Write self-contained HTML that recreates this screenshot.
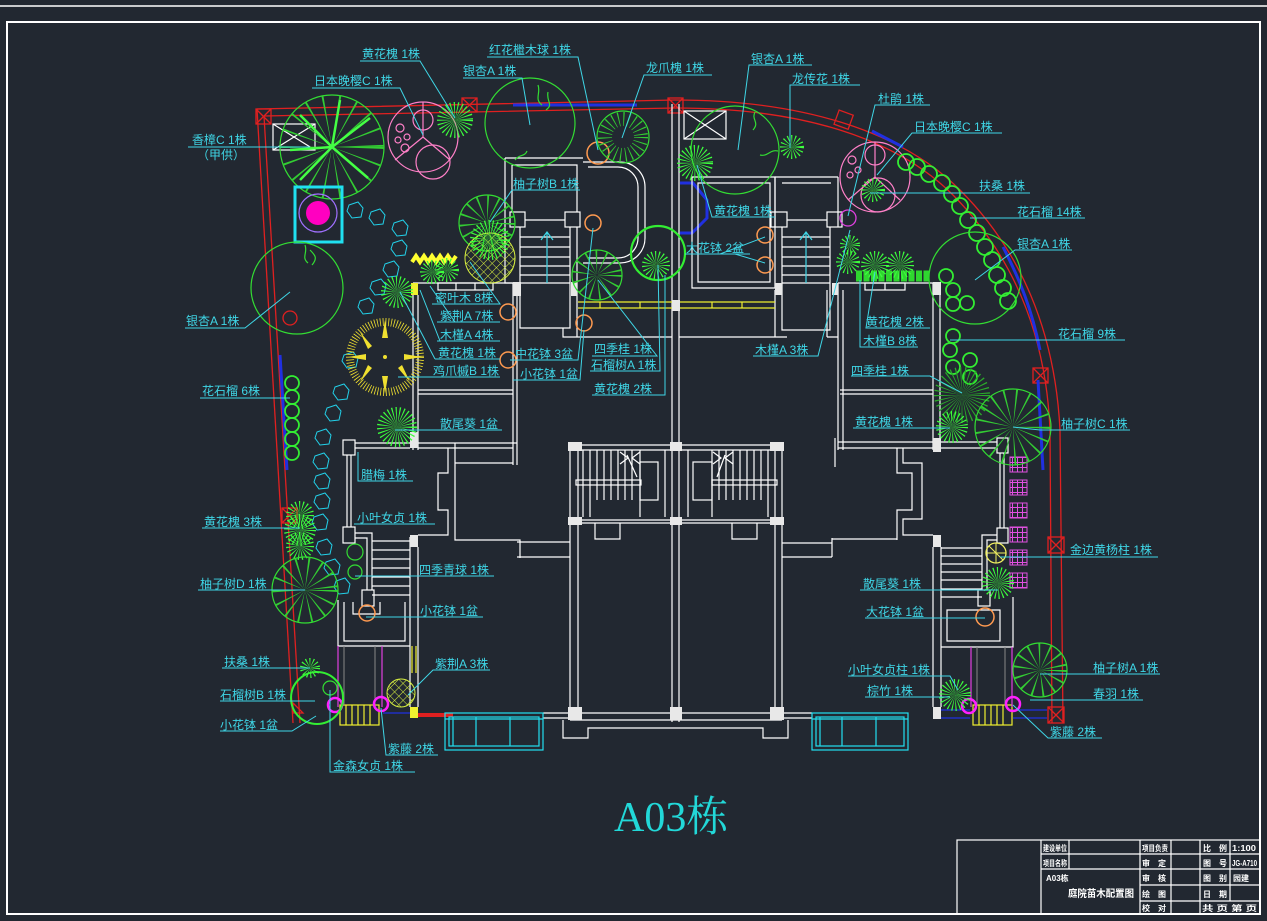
<!DOCTYPE html>
<html><head><meta charset="utf-8">
<style>
html,body{margin:0;padding:0;background:#222831;}
svg{display:block;}
.t{font-family:"Liberation Sans","Noto Sans CJK SC",sans-serif;font-size:12px;fill:#3fd6e6;}
.w{stroke:#fff;stroke-width:1.2;fill:none;}
.c{stroke:#3fd6e6;stroke-width:1;fill:none;}
.g{stroke:#33dd33;stroke-width:1.2;fill:none;}
.gs{stroke:#3dff3d;fill:none;stroke-dasharray:0.7 1.6;}
.o{stroke:#ff9a50;stroke-width:1.5;fill:none;}
.tb{font-family:"Liberation Sans","Noto Sans CJK SC",sans-serif;font-size:8px;font-weight:bold;fill:#fff;}
</style></head><body>
<svg width="1267" height="921" viewBox="0 0 1267 921" xmlns="http://www.w3.org/2000/svg">
<defs>
<pattern id="lat" width="6" height="6" patternUnits="userSpaceOnUse" patternTransform="rotate(45)">
<path d="M0,0H6M0,0V6" stroke="#d8f040" stroke-width="1"/>
</pattern>
<pattern id="mag" width="5" height="5" patternUnits="userSpaceOnUse">
<path d="M0,2.5H5M2.5,0V5" stroke="#e050e0" stroke-width="1"/>
</pattern>
<path id="st" d="M-6,-5L3,-8L8,-2L6,7L-3,8L-8,1Z" fill="none" stroke="#22d0e8" stroke-width="1"/>
</defs>
<rect width="1267" height="921" fill="#222831"/>
<!-- frame -->
<line x1="0" y1="6" x2="1267" y2="6" stroke="#fff" stroke-width="1.5"/>
<rect x="7" y="22" width="1253" height="892" fill="none" stroke="#fff" stroke-width="2"/>

<!-- title block -->
<g stroke="#fff" stroke-width="1.2" fill="none">
<rect x="957" y="840" width="303" height="74"/>
<path d="M1041,840V914M1069,840V869M1140,840V914M1171,840V914M1200,840V914M1230,840V901M1041,854H1140M1041,869H1140M1140,854H1260M1140,869H1260M1140,885H1260M1140,901H1260"/>
</g>
<text class="tb" x="1043" y="851" textLength="24" lengthAdjust="spacingAndGlyphs">建设单位</text>
<text class="tb" x="1043" y="866" textLength="24" lengthAdjust="spacingAndGlyphs">项目名称</text>
<text class="tb" x="1046" y="881">A03栋</text>
<text class="tb" x="1068" y="897" textLength="66" lengthAdjust="spacingAndGlyphs" style="font-size:10px">庭院苗木配置图</text>
<text class="tb" x="1142" y="851" textLength="26" lengthAdjust="spacingAndGlyphs">项目负责</text>
<text class="tb" x="1142" y="866">审　定</text>
<text class="tb" x="1142" y="881">审　核</text>
<text class="tb" x="1142" y="897">绘　图</text>
<text class="tb" x="1142" y="911">校　对</text>
<text class="tb" x="1203" y="851">比　例</text>
<text class="tb" x="1232" y="851" textLength="24" lengthAdjust="spacingAndGlyphs">1:100</text>
<text class="tb" x="1203" y="866">图　号</text>
<text class="tb" x="1232" y="866" textLength="25" lengthAdjust="spacingAndGlyphs">JG-A710</text>
<text class="tb" x="1203" y="881">图　别</text>
<text class="tb" x="1233" y="881">园建</text>
<text class="tb" x="1203" y="897">日　期</text>
<text class="tb" x="1202" y="911" textLength="55" lengthAdjust="spacingAndGlyphs">共 页 第 页</text>

<!-- big title -->
<text x="614" y="831" style="font-family:'Liberation Serif','Noto Serif CJK SC',serif;font-size:42px;fill:#22d8d8;">A03栋</text>

<!-- property boundary red -->
<g stroke="#e02020" stroke-width="1.3" fill="none">
<path d="M257,109L293,723"/>
<path d="M264,116L300,723"/>
<path d="M257,109L675,100C800,100 900,130 960,190C1020,250 1055,330 1060,430L1063,723"/>
<path d="M264,116L675,108C800,108 895,137 953,195C1012,255 1046,333 1050,430L1052,723"/>
</g>
<g stroke="#e02020" stroke-width="1.3" fill="none">
<rect x="256" y="109" width="15" height="15"/><path d="M256,109l15,15M271,109l-15,15"/>
<rect x="462" y="98" width="15" height="14"/><path d="M462,98l15,14M477,98l-15,14"/>
<rect x="668" y="98" width="15" height="15"/><path d="M668,98l15,15M683,98l-15,15"/>
<rect x="836" y="112" width="15" height="15" transform="rotate(20 843 120)"/>
<rect x="1033" y="368" width="15" height="15"/><path d="M1033,368l15,15M1048,368l-15,15"/>
<rect x="1048" y="537" width="16" height="16"/><path d="M1048,537l16,16M1064,537l-16,16"/>
<rect x="1048" y="707" width="16" height="16"/><path d="M1048,707l16,16M1064,707l-16,16"/>
<rect x="282" y="508" width="15" height="15"/><path d="M282,508l15,15M297,508l-15,15"/>
<circle cx="290" cy="318" r="7"/>
<path d="M293,703l10,10h-10z"/>
</g>
<!-- blue boundary bits -->
<g stroke="#2030e0" stroke-width="3" fill="none">
<path d="M513,105H637"/>
<path d="M280,355L287,470"/>
<path d="M872,131L903,147"/>
<path d="M1003,247C1020,280 1032,310 1040,350"/>
<path d="M1038,380L1043,470"/>
<path d="M680,183H693L707,200V218L692,233H680"/>
</g>

<!-- BUILDING -->
<g class="w">
<path d="M672,104V722M679,104V722"/>
<path d="M570,445V720M578,450V713M775,450V713M782,445V720M570,445H782M578,450H775M570,520H782M578,523H672M679,523H775M570,720H782M578,713H775"/>
<path d="M563,720V738H588V728H763V738H788V720"/>
<path d="M595,523V539H620V523M732,523V539H757V523"/>
<path d="M517,542H570M517,557H570M782,543H832M782,557H832"/>
<path d="M543,713H570M543,718H570M782,713H812M782,718H812"/>
<path d="M583,450V517M590,450V517M597,450V500M604,450V500M611,450V500M618,450V500M625,450V500M632,450V500M640,450V517M665,450V517"/>
<rect x="576" y="480" width="65" height="5"/><rect x="640" y="462" width="18" height="38"/>
<path d="M620,452l8,6l-8,6M640,452l-8,6l8,6M627,455l10,22"/>
<path d="M712,450V517M719,450V500M726,450V500M733,450V500M740,450V500M747,450V500M754,450V500M761,450V500M768,450V517M688,450V517"/>
<rect x="712" y="480" width="65" height="5"/><rect x="693" y="462" width="19" height="38"/>
<path d="M713,452l8,6l-8,6M733,452l-8,6l8,6M725,455l-8,22"/>
<rect x="343" y="440" width="12" height="15"/><rect x="343" y="527" width="12" height="16"/><rect x="362" y="590" width="12" height="16"/>
<path d="M347,455V527M351,455V527M355,443H410M355,448H410"/>
<path d="M355,533H372V590M355,538H367V590"/>
<path d="M372,541H410M372,550H410M372,559H410M372,568H410M372,577H410M372,586H410M372,595H410"/>
<path d="M410,537V707M418,547V707"/>
<path d="M338,600V646H410M344,602V641H405V602M353,602V614H380V602"/>
<path d="M418,443H517M418,448H513M513,283V465M517,296V465"/>
<path d="M448,448V473H438V510H448V535H418"/>
<path d="M455,443V540H520V558M455,463H513"/>
<rect x="997" y="438" width="11" height="15"/><rect x="997" y="528" width="11" height="15"/><rect x="978" y="590" width="12" height="16"/>
<path d="M1000,453V528M1004,453V528M838,442H997M838,448H933M941,448H997"/>
<path d="M997,535H982V590M997,540H987V590"/>
<path d="M941,548H982M941,556H982M941,564H982M941,572H982M941,580H982M941,589H982M941,597H982"/>
<path d="M933,547V707M941,547V707"/>
<path d="M1013,597V647H941M947,610H1000V641H947Z"/>
<path d="M897,448V473H912V510H897V540M903,448V463H922V519H903V535H933"/>
<path d="M832,538V557M832,539H897M835,438V467"/>
<path d="M413,283H513M413,283V450M418,295V450M418,390H513M418,394H513"/>
<rect x="438" y="283" width="55" height="7"/><path d="M456,283V290M475,283V290"/>
<path d="M838,283H933M838,283V450M843,290V450M840,390H933M840,394H933M933,283V450M940,283V450"/>
<rect x="865" y="283" width="40" height="7"/><path d="M885,283V290"/>
<path d="M505,158V227M505,158H583M512,165H577V212M512,165V212"/>
<path d="M583,162H620A25,25 0 0 1 645,187V238A25,25 0 0 1 620,263H583M588,167H618A20,20 0 0 1 638,187V238A20,20 0 0 1 618,258H588"/>
<rect x="510" y="212" width="15" height="15"/><rect x="565" y="212" width="15" height="15"/>
<path d="M525,220H565M520,227V328H570V227M520,237H570M520,247H570M520,257H570M520,266H570M520,275H570M520,283H570"/>
<path d="M547,232V283M541,240L547,232L553,240" style="stroke:#3fd6e6"/>
<path d="M577,227V337M563,328V337H672M505,227V283H513"/>
<path d="M775,177H838M782,183H831M775,177V227M838,177V227"/>
<path d="M692,177H775V288H692ZM698,183H770V282H698Z"/>
<rect x="771" y="212" width="16" height="15"/><rect x="827" y="212" width="15" height="15"/>
<path d="M787,220H827M782,227V330H830V227M782,237H830M782,247H830M782,257H830M782,266H830M782,275H830M782,283H830"/>
<path d="M806,232V283M800,240L806,232L812,240" style="stroke:#3fd6e6"/>
<path d="M775,290V337M679,337H787M827,337H838M827,290V337"/>
<rect x="684" y="111" width="42" height="28"/><path d="M684,111L726,139M726,111L684,139"/>
<rect x="273" y="124" width="42" height="26"/><path d="M273,124L315,150M315,124L273,150"/>
</g>
<g fill="#e8e8e8">
<rect x="568" y="442" width="14" height="9"/><rect x="670" y="442" width="12" height="9"/><rect x="770" y="442" width="14" height="9"/>
<rect x="568" y="517" width="14" height="8"/><rect x="670" y="517" width="12" height="8"/><rect x="770" y="517" width="14" height="8"/>
<rect x="568" y="707" width="14" height="13"/><rect x="670" y="707" width="12" height="13"/><rect x="770" y="707" width="14" height="13"/>
<rect x="410" y="432" width="8" height="16"/><rect x="410" y="535" width="8" height="12"/>
<rect x="933" y="438" width="8" height="14"/><rect x="933" y="535" width="8" height="12"/><rect x="933" y="707" width="8" height="12"/>
<rect x="513" y="282" width="8" height="14"/><rect x="571" y="282" width="6" height="14"/>
<rect x="775" y="283" width="7" height="12"/><rect x="832" y="283" width="6" height="12"/>
<rect x="933" y="282" width="8" height="13"/><rect x="672" y="300" width="8" height="11"/>
</g>
<g stroke="#f0f030" stroke-width="1.2" fill="none">
<path d="M578,302H672M578,308H672M680,302H775M680,308H775M600,302V308M640,302V308M712,302V308M742,302V308"/>
<path d="M412,646V673M416,646V673"/>
<rect x="340" y="705" width="39" height="20"/><path d="M346,705V725M352,705V725M358,705V725M364,705V725M370,705V725"/>
<rect x="973" y="705" width="39" height="20"/><path d="M979,705V725M985,705V725M991,705V725M997,705V725M1003,705V725"/>
</g>
<rect x="411" y="283" width="7" height="12" fill="#f0f030"/>
<rect x="410" y="707" width="8" height="11" fill="#f0f030"/>
<path d="M418,715H453" stroke="#e02020" stroke-width="4"/>
<path d="M383,713H410M941,710H970M1013,710H1047M941,718H970M1013,718H1047" stroke="#2030e0" stroke-width="1.3"/>
<g stroke="#e040e0" stroke-width="1.2" fill="none">
<path d="M338,646V707M382,646V707M971,647V707M1012,647V707"/>
</g>
<g stroke="#888" stroke-width="1" fill="none"><path d="M344,646V705M375,646V705M977,647V705M1005,647V705"/></g>
<g stroke="#ff20ff" stroke-width="2.5" fill="none">
<circle cx="335" cy="705" r="7"/><circle cx="381" cy="704" r="7"/><circle cx="969" cy="706" r="7"/><circle cx="1013" cy="704" r="7"/>
</g>
<g stroke="#22e0f0" stroke-width="1.2" fill="none">
<rect x="445" y="713" width="98" height="37"/><rect x="449" y="717" width="90" height="29"/><path d="M453,717V746M476,717V746M510,717V746M445,719H543"/>
<rect x="812" y="713" width="96" height="37"/><rect x="816" y="717" width="88" height="29"/><path d="M820,717V746M842,717V746M876,717V746M812,719H908"/>
</g>
<g stroke="#e050e0" stroke-width="1" fill="url(#mag)">
<rect x="1010" y="457" width="17" height="15"/><rect x="1010" y="480" width="17" height="15"/><rect x="1010" y="503" width="17" height="15"/>
<rect x="1010" y="527" width="17" height="15"/><rect x="1010" y="550" width="17" height="15"/><rect x="1010" y="573" width="17" height="15"/>
</g>

<!-- stepping stones -->
<use href="#st" x="355" y="210"/><use href="#st" x="377" y="217"/><use href="#st" x="400" y="228"/>
<use href="#st" x="399" y="248"/><use href="#st" x="391" y="269"/><use href="#st" x="378" y="287"/>
<use href="#st" x="366" y="306"/><use href="#st" x="350" y="360"/><use href="#st" x="341" y="392"/>
<use href="#st" x="333" y="413"/><use href="#st" x="323" y="437"/><use href="#st" x="321" y="461"/>
<use href="#st" x="322" y="481"/><use href="#st" x="322" y="501"/><use href="#st" x="320" y="522"/>
<use href="#st" x="324" y="547"/><use href="#st" x="332" y="567"/><use href="#st" x="342" y="586"/>

<!-- TREES -->
<circle cx="332" cy="147" r="52" class="g"/>
<circle cx="332" cy="147" r="26" stroke="#33cc33" stroke-width="52" fill="none" stroke-dasharray="1 8"/>
<path d="M332,147L300,115M332,147L370,118M332,147L368,178M332,147L300,180M332,147L290,150M332,147L340,100" stroke="#44ff44" stroke-width="2.5" fill="none"/>
<g stroke="#ff80c8" stroke-width="1.2" fill="none">
<circle cx="423" cy="137" r="35"/><circle cx="433" cy="162" r="17"/><circle cx="423" cy="120" r="10"/>
<circle cx="400" cy="128" r="4"/><circle cx="407" cy="137" r="3"/><circle cx="398" cy="140" r="3"/><circle cx="405" cy="148" r="4"/>
<path d="M423,137L395,160M423,137L450,160M423,137V102"/>
<circle cx="875" cy="177" r="35"/><circle cx="878" cy="195" r="17"/><circle cx="875" cy="155" r="10"/>
<circle cx="852" cy="160" r="4"/><circle cx="858" cy="170" r="3"/><circle cx="850" cy="175" r="3"/>
<path d="M875,177L848,200M875,177L900,200M875,177V142"/>
</g>
<circle cx="455" cy="120" r="9" class="gs" stroke-width="18"/>
<circle cx="530" cy="123" r="45" class="g"/>
<path d="M538,85c3,8 -4,14 4,20M548,92c-2,10 6,12 -2,18M515,160c4,-6 10,-3 12,-9" class="g"/>
<circle cx="598" cy="153" r="11" class="o" stroke-width="2"/>
<circle cx="623" cy="137" r="26" class="g"/>
<circle cx="623" cy="137" r="18" stroke="#33cc33" stroke-width="14" fill="none" stroke-dasharray="1 4"/>
<rect x="295" y="187" width="47" height="55" fill="none" stroke="#20e0f0" stroke-width="3"/>
<circle cx="318" cy="213" r="19" fill="none" stroke="#a070ff" stroke-width="1.2"/>
<circle cx="318" cy="213" r="12" fill="#ff00c0"/>
<circle cx="297" cy="288" r="46" class="g"/>
<path d="M305,245c3,8 -4,12 3,18M310,250c5,5 8,8 2,15" class="g"/>
<circle cx="487" cy="223" r="28" class="g"/>
<circle cx="487" cy="223" r="14" stroke="#33cc33" stroke-width="28" fill="none" stroke-dasharray="1 5"/>
<circle cx="490" cy="258" r="25" fill="url(#lat)" stroke="#d8f040" stroke-width="1"/>
<circle cx="490" cy="240" r="10" class="gs" stroke-width="20"/>
<path d="M412,262l4,-6l4,6l4,-6l4,6l4,-6l4,6l4,-6l4,6l4,-6l4,6l4,-6" stroke="#ffff30" stroke-width="4" fill="none"/>
<circle cx="432" cy="272" r="6" class="gs" stroke-width="12"/><circle cx="447" cy="270" r="6" class="gs" stroke-width="12"/>
<circle cx="397" cy="292" r="8" class="gs" stroke-width="16"/>
<circle cx="385" cy="357" r="35" fill="none" stroke="#f0e030" stroke-width="8" stroke-dasharray="0.8 2"/>
<path d="M385,320l-3,18h6zM385,394l-3,-18h6zM348,357l18,-3v6zM422,357l-18,-3v6zM360,332l12,14l-4,3zM410,382l-12,-14l4,-3zM360,382l12,-14l-4,-3z" fill="#f0e030"/>
<circle cx="385" cy="357" r="2" fill="#f0e030"/>
<circle cx="597" cy="275" r="25" class="g"/>
<circle cx="597" cy="275" r="13" stroke="#33cc33" stroke-width="24" fill="none" stroke-dasharray="1 5"/>
<circle cx="658" cy="253" r="27" stroke="#33ee33" stroke-width="2.2" fill="none"/>
<circle cx="656" cy="265" r="7" class="gs" stroke-width="14"/>
<g class="o">
<circle cx="593" cy="223" r="8"/><circle cx="508" cy="312" r="8"/><circle cx="584" cy="323" r="8"/><circle cx="508" cy="360" r="8"/>
<circle cx="765" cy="235" r="8"/><circle cx="765" cy="265" r="8"/><circle cx="985" cy="617" r="9"/><circle cx="367" cy="613" r="8"/>
</g>
<g stroke="#33ee33" stroke-width="1.8" fill="none">
<circle cx="292" cy="383" r="7"/><circle cx="292" cy="397" r="7"/><circle cx="292" cy="411" r="7"/><circle cx="292" cy="425" r="7"/><circle cx="292" cy="439" r="7"/><circle cx="292" cy="453" r="7"/>
</g>
<circle cx="397" cy="427" r="10" class="gs" stroke-width="20"/>
<circle cx="300" cy="515" r="7" class="gs" stroke-width="14"/><circle cx="300" cy="530" r="8" class="gs" stroke-width="16"/><circle cx="300" cy="546" r="7" class="gs" stroke-width="14"/>
<circle cx="305" cy="590" r="33" class="g"/>
<circle cx="305" cy="590" r="16" stroke="#33cc33" stroke-width="33" fill="none" stroke-dasharray="1 6"/>
<circle cx="355" cy="552" r="8" class="g"/><circle cx="355" cy="572" r="7" class="g"/>
<circle cx="317" cy="698" r="26" stroke="#33ee33" stroke-width="2" fill="none"/>
<circle cx="330" cy="688" r="7" class="g"/>
<circle cx="310" cy="668" r="5" class="gs" stroke-width="10"/>
<circle cx="401" cy="693" r="14" fill="url(#lat)" stroke="#d8f040" stroke-width="1"/>
<circle cx="735" cy="150" r="44" class="g"/>
<path d="M755,112c-4,8 5,10 -2,18M760,155c8,2 10,-6 18,-4" class="g"/>
<circle cx="792" cy="147" r="6" class="gs" stroke-width="12"/>
<circle cx="695" cy="163" r="9" class="gs" stroke-width="18"/>
<circle cx="848" cy="218" r="8" fill="none" stroke="#e040e0" stroke-width="1.3"/>
<circle cx="873" cy="190" r="6" class="gs" stroke-width="12"/>
<g stroke="#33ee33" stroke-width="1.8" fill="none">
<circle cx="906" cy="162" r="8"/><circle cx="917" cy="167" r="8"/><circle cx="929" cy="174" r="8"/><circle cx="942" cy="183" r="8"/><circle cx="952" cy="194" r="8"/>
<circle cx="960" cy="206" r="8"/><circle cx="968" cy="220" r="8"/><circle cx="977" cy="233" r="8"/><circle cx="985" cy="247" r="8"/><circle cx="992" cy="260" r="8"/>
<circle cx="997" cy="275" r="8"/><circle cx="1003" cy="288" r="8"/><circle cx="1008" cy="301" r="8"/>
<circle cx="946" cy="276" r="7"/><circle cx="953" cy="290" r="7"/><circle cx="953" cy="304" r="7"/><circle cx="967" cy="303" r="7"/>
<circle cx="953" cy="336" r="7"/><circle cx="950" cy="350" r="7"/><circle cx="970" cy="360" r="7"/><circle cx="953" cy="367" r="7"/><circle cx="970" cy="377" r="7"/>
</g>
<circle cx="975" cy="278" r="46" class="g"/>
<path d="M856,276H930" stroke="#2fd62f" stroke-width="11" stroke-dasharray="6 1.5" fill="none"/>
<circle cx="875" cy="265" r="7" class="gs" stroke-width="14"/><circle cx="900" cy="265" r="7" class="gs" stroke-width="14"/>
<circle cx="848" cy="262" r="6" class="gs" stroke-width="12"/><circle cx="850" cy="245" r="5" class="gs" stroke-width="10"/>
<circle cx="962" cy="395" r="14" stroke="#2aaa2a" stroke-width="28" fill="none" stroke-dasharray="0.7 2"/>
<circle cx="1013" cy="427" r="38" class="g"/>
<circle cx="1013" cy="427" r="19" stroke="#33cc33" stroke-width="38" fill="none" stroke-dasharray="1 6"/>
<circle cx="952" cy="427" r="8" class="gs" stroke-width="16"/>
<circle cx="996" cy="553" r="10" fill="none" stroke="#f0f060" stroke-width="1.3"/>
<path d="M986,553H1006M996,543V563M989,546l14,14" stroke="#f0f060" stroke-width="1"/>
<circle cx="998" cy="583" r="8" class="gs" stroke-width="16"/>
<circle cx="1040" cy="670" r="27" class="g"/>
<circle cx="1040" cy="670" r="13" stroke="#33cc33" stroke-width="27" fill="none" stroke-dasharray="1 5"/>
<circle cx="955" cy="695" r="8" class="gs" stroke-width="16"/>

<!-- LEADERS -->
<g class="c">
<path d="M360,61H420L455,118"/>
<path d="M312,88H400L423,135"/>
<path d="M487,57H578L598,150"/>
<path d="M463,78H522L530,125"/>
<path d="M712,75H644L622,138"/>
<path d="M188,147H310"/>
<path d="M185,328H245L290,292"/>
<path d="M200,398H290"/>
<path d="M580,190H512L490,222"/>
<path d="M432,304H500L470,262M437,322H500M437,341H500M435,359H500M398,377H500M430,286L455,322M420,290L440,341M400,292L435,359"/>
<path d="M510,360H578L593,228"/>
<path d="M513,380H580L584,330"/>
<path d="M592,356H657L598,280"/>
<path d="M590,371H660L658,265"/>
<path d="M592,395H665V275"/>
<path d="M395,430H502"/>
<path d="M413,481H358V452"/>
<path d="M354,524H435"/>
<path d="M355,576H494"/>
<path d="M366,617H483"/>
<path d="M202,528H300"/>
<path d="M198,590H305"/>
<path d="M490,670H433L408,695"/>
<path d="M222,668H310"/>
<path d="M220,701H315"/>
<path d="M220,731H292L316,716"/>
<path d="M438,755H386L381,708"/>
<path d="M415,772H330V690"/>
<path d="M812,65H749L738,150"/>
<path d="M860,85H790V148"/>
<path d="M930,105H875L848,216"/>
<path d="M1002,133H912L877,175"/>
<path d="M1030,193H870"/>
<path d="M1085,218H970"/>
<path d="M1072,250H1015L975,280"/>
<path d="M775,217H712L697,165"/>
<path d="M750,254H685M720,254L765,237M735,254L765,263"/>
<path d="M930,328H866L875,272"/>
<path d="M918,347H860V280"/>
<path d="M753,356H818L850,230"/>
<path d="M1125,340H950"/>
<path d="M851,376H930L962,393"/>
<path d="M853,428H950"/>
<path d="M1130,430H1040L1013,427"/>
<path d="M1158,557H1000"/>
<path d="M860,590H998"/>
<path d="M865,618H985"/>
<path d="M848,676H950L958,690"/>
<path d="M865,697H950"/>
<path d="M1160,674H1040"/>
<path d="M1143,700H1030"/>
<path d="M1102,738H1048L1013,705"/>
</g>

<!-- LABELS -->
<text class="t" x="362" y="58">黄花槐 1株</text>
<text class="t" x="314" y="85">日本晚樱C 1株</text>
<text class="t" x="489" y="54">红花檵木球 1株</text>
<text class="t" x="463" y="75">银杏A 1株</text>
<text class="t" x="646" y="72">龙爪槐 1株</text>
<text class="t" x="192" y="144">香樟C 1株</text>
<text class="t" x="197" y="159">（甲供）</text>
<text class="t" x="186" y="325">银杏A 1株</text>
<text class="t" x="202" y="395">花石榴 6株</text>
<text class="t" x="513" y="188">柚子树B 1株</text>
<text class="t" x="435" y="302">密叶木 8株</text>
<text class="t" x="440" y="320">紫荆A 7株</text>
<text class="t" x="440" y="339">木槿A 4株</text>
<text class="t" x="438" y="357">黄花槐 1株</text>
<text class="t" x="433" y="375">鸡爪槭B 1株</text>
<text class="t" x="515" y="358">中花钵 3盆</text>
<text class="t" x="520" y="378">小花钵 1盆</text>
<text class="t" x="594" y="353">四季桂 1株</text>
<text class="t" x="591" y="369">石榴树A 1株</text>
<text class="t" x="594" y="393">黄花槐 2株</text>
<text class="t" x="440" y="428">散尾葵 1盆</text>
<text class="t" x="361" y="479">腊梅 1株</text>
<text class="t" x="357" y="522">小叶女贞 1株</text>
<text class="t" x="419" y="574">四季青球 1株</text>
<text class="t" x="420" y="615">小花钵 1盆</text>
<text class="t" x="204" y="526">黄花槐 3株</text>
<text class="t" x="200" y="588">柚子树D 1株</text>
<text class="t" x="435" y="668">紫荆A 3株</text>
<text class="t" x="224" y="666">扶桑 1株</text>
<text class="t" x="220" y="699">石榴树B 1株</text>
<text class="t" x="220" y="729">小花钵 1盆</text>
<text class="t" x="388" y="753">紫藤 2株</text>
<text class="t" x="333" y="770">金森女贞 1株</text>
<text class="t" x="751" y="63">银杏A 1株</text>
<text class="t" x="792" y="83">龙传花 1株</text>
<text class="t" x="878" y="103">杜鹃 1株</text>
<text class="t" x="914" y="131">日本晚樱C 1株</text>
<text class="t" x="979" y="190">扶桑 1株</text>
<text class="t" x="1017" y="216">花石榴 14株</text>
<text class="t" x="1017" y="248">银杏A 1株</text>
<text class="t" x="714" y="215">黄花槐 1株</text>
<text class="t" x="686" y="252">大花钵 2盆</text>
<text class="t" x="866" y="326">黄花槐 2株</text>
<text class="t" x="863" y="345">木槿B 8株</text>
<text class="t" x="755" y="354">木槿A 3株</text>
<text class="t" x="1058" y="338">花石榴 9株</text>
<text class="t" x="851" y="375">四季桂 1株</text>
<text class="t" x="855" y="426">黄花槐 1株</text>
<text class="t" x="1061" y="428">柚子树C 1株</text>
<text class="t" x="1070" y="554">金边黄杨柱 1株</text>
<text class="t" x="863" y="588">散尾葵 1株</text>
<text class="t" x="866" y="616">大花钵 1盆</text>
<text class="t" x="848" y="674">小叶女贞柱 1株</text>
<text class="t" x="867" y="695">棕竹 1株</text>
<text class="t" x="1093" y="672">柚子树A 1株</text>
<text class="t" x="1093" y="698">春羽 1株</text>
<text class="t" x="1050" y="736">紫藤 2株</text>
</svg>
</body></html>
